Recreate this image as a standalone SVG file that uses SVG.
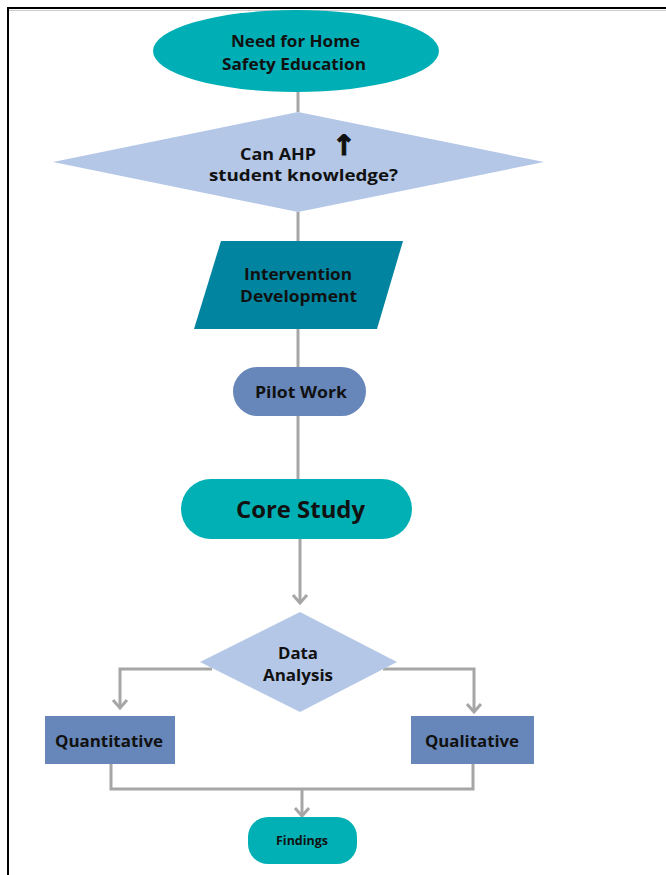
<svg xmlns="http://www.w3.org/2000/svg" width="666" height="875" viewBox="0 0 666 875">
<style>
.t{font-family:"Open Sans","Liberation Sans",sans-serif;font-weight:bold;fill:#111111;text-anchor:middle}
.c{fill:none;stroke:#A6A6A6;stroke-width:3}
</style>
<defs>
<marker id="arr" viewBox="-10 -10 20 20" markerWidth="20" markerHeight="20" refX="0" refY="0" orient="auto" markerUnits="userSpaceOnUse">
<path d="M-8,-7 L0,0 L-8,7" fill="none" stroke="#A6A6A6" stroke-width="3"/>
</marker>
</defs>
<rect width="666" height="875" fill="#ffffff"/>
<g id="frame">
<line x1="7" y1="8" x2="666" y2="8" stroke="#000" stroke-width="2"/>
<line x1="7" y1="10.5" x2="666" y2="10.5" stroke="#cccccc" stroke-width="1"/>
<line x1="8" y1="7" x2="8" y2="875" stroke="#000" stroke-width="2"/>
</g>
<g id="connectors">
<line class="c" x1="298" y1="92" x2="298" y2="112"/>
<line class="c" x1="298" y1="212" x2="298" y2="241"/>
<line class="c" x1="298" y1="329" x2="298" y2="367"/>
<line class="c" x1="298" y1="416" x2="298" y2="479"/>
<line class="c" x1="300" y1="539" x2="300" y2="603" marker-end="url(#arr)"/>
<polyline class="c" points="212,669 120,669 120,708" marker-end="url(#arr)"/>
<polyline class="c" points="383,669 474,669 474,712" marker-end="url(#arr)"/>
<polyline class="c" points="111,764 111,789 473,789 473,764"/>
<line class="c" x1="302" y1="789" x2="302" y2="816" marker-end="url(#arr)"/>
</g>
<g id="need">
<ellipse cx="296" cy="51" rx="143" ry="41" fill="#00AFB6"/>
<text class="t" x="295.5" y="47" font-size="16.5" textLength="129" lengthAdjust="spacingAndGlyphs">Need for Home</text>
<text class="t" x="294" y="70" font-size="16.5" textLength="144" lengthAdjust="spacingAndGlyphs">Safety Education</text>
</g>
<g id="question">
<polygon points="298,112 544,162 298,212 53,162" fill="#B4C7E7"/>
<text class="t" x="278" y="160" font-size="16.5" textLength="76" lengthAdjust="spacingAndGlyphs">Can AHP</text>
<text x="344" y="155" font-size="28" font-weight="bold" font-family="'DejaVu Sans',sans-serif" text-anchor="middle" fill="#111111" stroke="#111111" stroke-width="1.2">↑</text>
<text class="t" x="303.5" y="181" font-size="16.5" textLength="189" lengthAdjust="spacingAndGlyphs">student knowledge?</text>
</g>
<g id="intervention">
<polygon points="221,241 403,241 377,329 194,329" fill="#00849F"/>
<text class="t" x="298" y="280" font-size="16.5" textLength="108" lengthAdjust="spacingAndGlyphs">Intervention</text>
<text class="t" x="298.5" y="302" font-size="16.5" textLength="117" lengthAdjust="spacingAndGlyphs">Development</text>
</g>
<g id="pilot">
<rect x="233" y="367" width="133" height="49" rx="24.5" fill="#6787BA"/>
<text class="t" x="301" y="398" font-size="16.5" textLength="92" lengthAdjust="spacingAndGlyphs">Pilot Work</text>
</g>
<g id="core">
<rect x="181" y="479" width="231" height="60" rx="30" fill="#00B0B4"/>
<text class="t" x="300.5" y="518" font-size="24" textLength="129" lengthAdjust="spacingAndGlyphs">Core Study</text>
</g>
<g id="data">
<polygon points="300,612 397,662 300,712 200,662" fill="#B4C7E7"/>
<text class="t" x="298" y="659" font-size="16" textLength="40" lengthAdjust="spacingAndGlyphs">Data</text>
<text class="t" x="298" y="681" font-size="16" textLength="70" lengthAdjust="spacingAndGlyphs">Analysis</text>
</g>
<g id="quantitative">
<rect x="45" y="716" width="130" height="48" fill="#6787BA"/>
<text class="t" x="109" y="747" font-size="16.5" textLength="108" lengthAdjust="spacingAndGlyphs">Quantitative</text>
</g>
<g id="qualitative">
<rect x="411" y="716" width="123" height="48" fill="#6787BA"/>
<text class="t" x="472" y="747" font-size="16.5" textLength="94" lengthAdjust="spacingAndGlyphs">Qualitative</text>
</g>
<g id="findings">
<rect x="248" y="817" width="109" height="47" rx="20" fill="#00B0B4"/>
<text class="t" x="302" y="845" font-size="11.5" textLength="52" lengthAdjust="spacingAndGlyphs">Findings</text>
</g>
</svg>
